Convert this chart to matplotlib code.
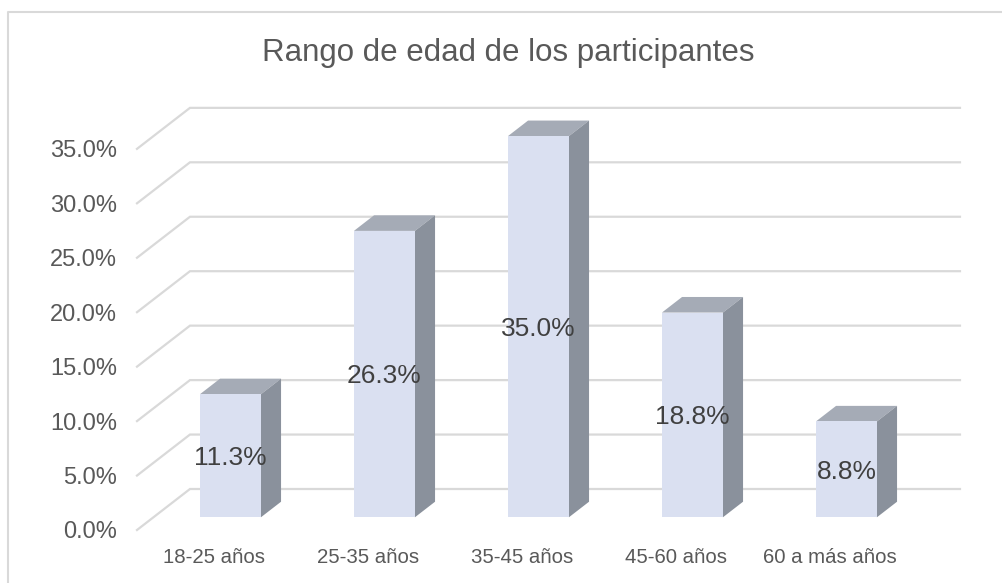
import numpy as np
import matplotlib
matplotlib.use("Agg")
import matplotlib.pyplot as plt
from matplotlib.lines import Line2D

####################################
# Datos del gráfico

categorias = ["18-25 años", "25-35 años", "35-45 años", "45-60 años", "60 a más años"]
porcentajes = [11.3, 26.3, 35.0, 18.8, 8.8]
ticks_y = [0, 5, 10, 15, 20, 25, 30, 35]
titulo = "Rango de edad de los participantes"

####################################
# Parámetros de la vista 3D (proyección oblicua)

kx = 0.344      # desplazamiento en x por unidad de profundidad (categorías)
ky = 3.765      # desplazamiento en y por unidad de profundidad (%)
z_frente = 0.31 # profundidad cara frontal de la barra
z_fondo = 0.69  # profundidad cara trasera de la barra
media = 0.198   # semi-ancho de la barra

c_frente = "#DAE0F1"
c_arriba = "#A5ABB6"
c_lado = "#8A919C"
c_grid = "#D9D9D9"
c_texto = "#595959"


def proy(x, y, z):
    return x + z * kx, y + z * ky


plt.rcParams["font.family"] = ["Liberation Sans", "DejaVu Sans"]

fig = plt.figure(figsize=(10.03, 5.83), dpi=100)
ax = fig.add_axes([137 / 1003, 53 / 583, 5.35 * 154 / 1003, 40 * 10.89 / 583])
ax.set_xlim(0, 5.35)
ax.set_ylim(0, 40)
for s in ax.spines.values():
    s.set_visible(False)

# Lineas de cuadricula: pared del fondo y piso lateral
for v in ticks_y:
    x0, y0 = proy(0, v, 0)
    x1, y1 = proy(0, v, 1)
    x2, y2 = proy(len(categorias), v, 1)
    ax.plot([x0, x1, x2], [y0, y1, y2], color=c_grid, lw=1.6, zorder=1,
            solid_joinstyle="miter", clip_on=False)

# Barras 3D
for i, v in enumerate(porcentajes):
    c = i + 0.5
    xl, xr = c - media, c + media
    # cara superior
    sup = [proy(xl, v, z_frente), proy(xr, v, z_frente),
           proy(xr, v, z_fondo), proy(xl, v, z_fondo)]
    ax.fill([p[0] for p in sup], [p[1] for p in sup], color=c_arriba, lw=0, zorder=3)
    # cara lateral
    lat = [proy(xr, 0, z_frente), proy(xr, v, z_frente),
           proy(xr, v, z_fondo), proy(xr, 0, z_fondo)]
    ax.fill([p[0] for p in lat], [p[1] for p in lat], color=c_lado, lw=0, zorder=3)
    # cara frontal
    fr = [proy(xl, 0, z_frente), proy(xr, 0, z_frente),
          proy(xr, v, z_frente), proy(xl, v, z_frente)]
    ax.fill([p[0] for p in fr], [p[1] for p in fr], color=c_frente, lw=0, zorder=4)
    # etiqueta de datos
    tx, ty = proy(c, v / 2 - 0.2, z_frente)
    ax.text(tx, ty, f"{v:.1f}%", ha="center", va="center", fontsize=19,
            color="#404040", zorder=5)

# Ejes
ax.set_xticks(np.arange(len(categorias)) + 0.5)
ax.set_xticklabels(categorias)
ax.set_yticks(ticks_y)
ax.set_yticklabels([f"{t:.1f}%" for t in ticks_y])
ax.tick_params(axis="x", length=0, pad=12.7, labelsize=14.7, labelcolor=c_texto)
ax.tick_params(axis="y", length=0, pad=14.4, labelsize=17, labelcolor=c_texto)

# Titulo
fig.text(508 / 1003, 1 - 53 / 583, titulo, ha="center", va="center",
         fontsize=22.5, color=c_texto)

# Borde del area del grafico
fig.add_artist(Line2D([8 / 1003, 8 / 1003, 1], [0, 1 - 12 / 583, 1 - 12 / 583],
                      transform=fig.transFigure, color=c_grid, lw=1.5))

fig.savefig("out.png", dpi=100)
